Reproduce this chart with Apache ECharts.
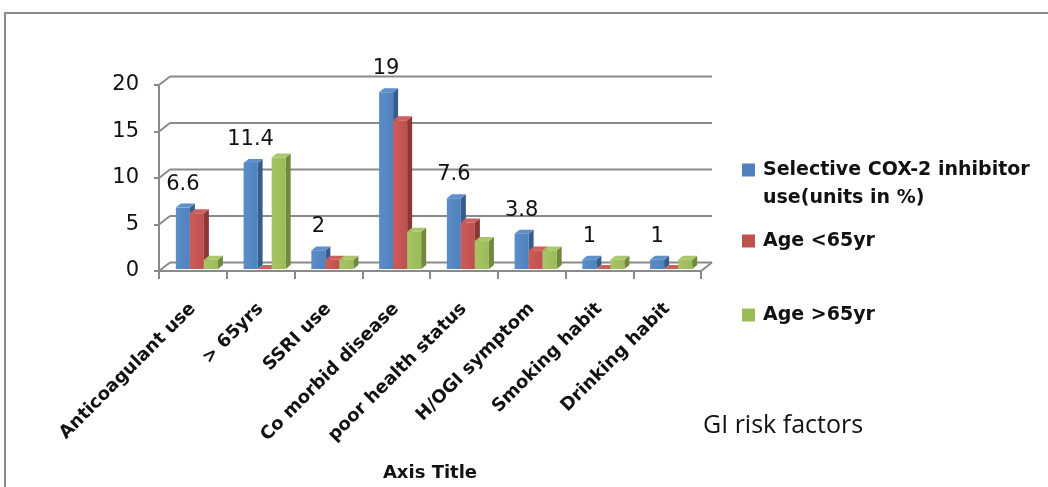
<!DOCTYPE html>
<html>
<head>
<meta charset="utf-8">
<title>GI risk factors</title>
<script src="https://cdn.jsdelivr.net/npm/echarts@6/dist/echarts.min.js"></script>
<style>
  html, body { margin: 0; padding: 0; background: #ffffff; }
  #chart { width: 1048px; height: 487px; }
</style>
</head>
<body>
<div id="chart"></div>
<script>
// ---- data ----
const categories = ['Anticoagulant use', '> 65yrs', 'SSRI use', 'Co morbid disease',
  'poor health status', 'H/OGI symptom', 'Smoking habit', 'Drinking habit'];
const cox2Use = [6.6, 11.4, 2, 19, 7.6, 3.8, 1, 1];
const ageUnder65 = [6, 0, 1, 16, 5, 2, 0, 0];
const ageOver65 = [1, 12, 1, 4, 3, 2, 1, 1];
const valueTicks = [0, 5, 10, 15, 20];
const seriesNames = ['Selective COX-2 inhibitor use(units in %)', 'Age <65yr', 'Age >65yr'];

// ---- pseudo-3D geometry ----
const WALL_DX = 11, WALL_DY = 8.5;      // depth of the back wall / floor
const BAR_DX = 5, BAR_DY = 4;           // depth of one bar
const BAR_SHIFT_X = 4, BAR_SHIFT_Y = -2; // bars stand slightly behind the front edge
const GRID_STROKE = '#8a8a8a';

const palettes = [
  { front: '#4F81BD', light: '#5b8dc9', side: '#345d8e', top: '#5f8fcb' },
  { front: '#C0504D', light: '#cb5c59', side: '#8a3735', top: '#cc605c' },
  { front: '#9BBB59', light: '#a6c665', side: '#70893d', top: '#a9c86a' }
];

function barRenderer(slot, pal, withLabel) {
  return function (params, api) {
    const cat = api.value(0);
    const val = api.value(1);
    const base = api.coord([cat, 0]);
    const top = api.coord([cat, val]);
    const band = api.size([1, 0])[0];
    const w = band * 0.207;
    const x0 = base[0] - 1.5 * w + slot * w + BAR_SHIFT_X;
    const x1 = x0 + w;
    const yb = base[1] + BAR_SHIFT_Y;
    const yt = top[1] + BAR_SHIFT_Y;
    const children = [
      { type: 'polygon', shape: { points: [[x1, yt], [x1 + BAR_DX, yt - BAR_DY], [x1 + BAR_DX, yb - BAR_DY], [x1, yb]] },
        style: { fill: pal.side } },
      { type: 'polygon', shape: { points: [[x0, yt], [x0 + BAR_DX, yt - BAR_DY], [x1 + BAR_DX, yt - BAR_DY], [x1, yt]] },
        style: { fill: pal.top } },
      { type: 'rect', shape: { x: x0, y: yt, width: w, height: yb - yt },
        style: { fill: new echarts.graphic.LinearGradient(0, 0, 1, 0, [
          { offset: 0, color: pal.light }, { offset: 1, color: pal.front }]) } }
    ];
    if (withLabel) {
      children.push({
        type: 'text',
        style: {
          text: String(val), x: (x0 + x1) / 2, y: yt - BAR_DY - 9,
          align: 'center', verticalAlign: 'bottom',
          fontFamily: 'DejaVu Sans', fontSize: 21, fill: '#111'
        }
      });
    }
    return { type: 'group', children };
  };
}

// back wall gridlines, left wall diagonals and the floor edge
function wallRenderer(params, api) {
  const cs = params.coordSys;
  const v = api.value(1);
  const y = api.coord([0, v])[1];
  const xl = cs.x, xr = cs.x + cs.width;
  const ls = { stroke: GRID_STROKE, lineWidth: 2 };
  const children = [
    { type: 'line', shape: { x1: xl, y1: y, x2: xl + WALL_DX, y2: y - WALL_DY }, style: ls },
    { type: 'line', shape: { x1: xl + WALL_DX, y1: y - WALL_DY, x2: xr + WALL_DX, y2: y - WALL_DY }, style: ls }
  ];
  if (v === valueTicks[0]) {
    children.push({ type: 'line', shape: { x1: xr, y1: y, x2: xr + WALL_DX, y2: y - WALL_DY }, style: ls });
  }
  return { type: 'group', children };
}

const toPairs = arr => arr.map((v, i) => [i, v]);
const legendText = { fontFamily: 'DejaVu Sans', fontWeight: 'bold', fontSize: 19, color: '#111',
  lineHeight: 28, padding: [0, 0, 0, 3] };
const legendBase = { left: 742, padding: 0, icon: 'rect', itemWidth: 13, itemHeight: 13, textStyle: legendText };

const chart = echarts.init(document.getElementById('chart'), null, { renderer: 'canvas' });
chart.setOption({
  animation: false,
  backgroundColor: '#ffffff',
  title: {
    text: 'GI risk factors',
    left: 703, top: 411, padding: 0,
    textStyle: { fontFamily: 'Open Sans', fontWeight: 'normal', fontSize: 25, color: '#111', lineHeight: 30 }
  },
  graphic: [{
    type: 'polyline', silent: true,
    shape: { points: [[5, 487], [5, 13], [1048, 13]] },
    style: { stroke: '#8a8a8a', lineWidth: 2, fill: null }
  }],
  legend: [
    // a leading empty line keeps the swatch level with the first line of the wrapped name
    Object.assign({}, legendBase, { data: [seriesNames[0]], top: 128,
      formatter: name => '\n' + name.replace(' use', '\nuse') }),
    Object.assign({}, legendBase, { data: [seriesNames[1]], top: 227 }),
    Object.assign({}, legendBase, { data: [seriesNames[2]], top: 301 })
  ],
  grid: { left: 159, right: 347, top: 85, bottom: 216, containLabel: false },
  xAxis: {
    type: 'category',
    data: categories,
    name: 'Axis Title',
    nameLocation: 'middle',
    nameGap: 193,
    nameTextStyle: { fontFamily: 'DejaVu Sans', fontWeight: 'bold', fontSize: 18, color: '#111' },
    axisLine: { lineStyle: { color: GRID_STROKE, width: 2 } },
    axisTick: { show: true, length: 8, lineStyle: { color: GRID_STROKE, width: 2 } },
    axisLabel: { interval: 0, rotate: 45, margin: 35, fontFamily: 'DejaVu Sans', fontWeight: 'bold', fontSize: 18, color: '#111' },
    splitLine: { show: false }
  },
  yAxis: {
    type: 'value',
    min: 0, max: 20, interval: 5,
    axisLine: { show: true, lineStyle: { color: GRID_STROKE, width: 2 } },
    axisTick: { show: true, length: 5, lineStyle: { color: GRID_STROKE, width: 2 } },
    axisLabel: { margin: 20, fontFamily: 'DejaVu Sans', fontSize: 21, color: '#111' },
    splitLine: { show: false }
  },
  series: [
    { type: 'custom', name: 'walls', silent: true, z: 1, renderItem: wallRenderer,
      data: valueTicks.map(v => [0, v]), encode: { x: 0, y: 1 } },
    { type: 'custom', name: seriesNames[0], z: 2, itemStyle: { color: palettes[0].front },
      renderItem: barRenderer(0, palettes[0], true), data: toPairs(cox2Use), encode: { x: 0, y: 1 } },
    { type: 'custom', name: seriesNames[1], z: 3, itemStyle: { color: palettes[1].front },
      renderItem: barRenderer(1, palettes[1], false), data: toPairs(ageUnder65), encode: { x: 0, y: 1 } },
    { type: 'custom', name: seriesNames[2], z: 4, itemStyle: { color: palettes[2].front },
      renderItem: barRenderer(2, palettes[2], false), data: toPairs(ageOver65), encode: { x: 0, y: 1 } }
  ]
});
</script>
</body>
</html>
